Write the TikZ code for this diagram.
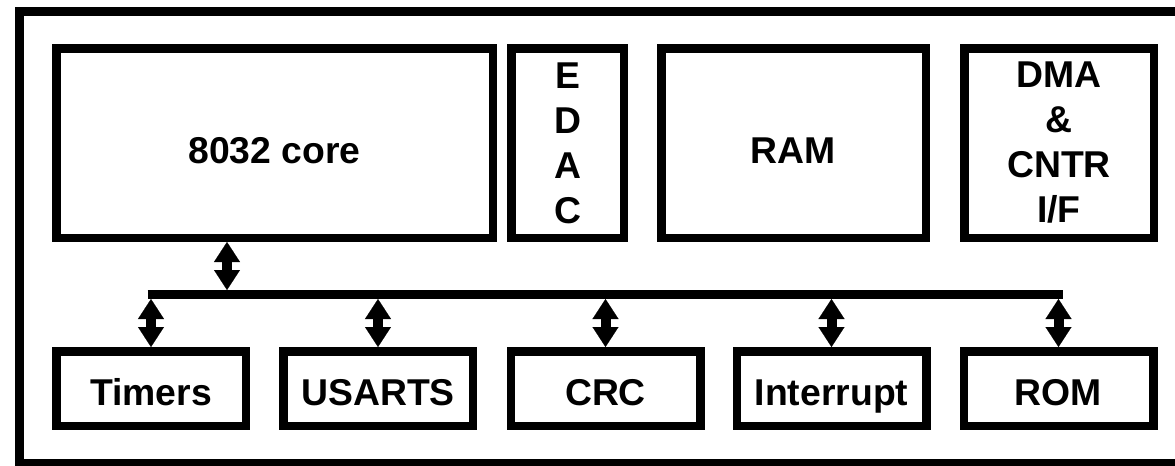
\documentclass[tikz,border=0pt]{standalone}
\usepackage{fontspec}
\setmainfont{Liberation Sans}
\usetikzlibrary{arrows.meta}
\tikzset{
  blk/.style={draw=black, line width=6.375pt, fill=white, inner sep=0pt,
    align=center, font=\bfseries\fontsize{28}{33.75}\selectfont},
  topblk/.style={blk, minimum height=142.125pt},
  onel/.style={text height=30pt, text depth=0pt},
  botblk/.style={blk, minimum width=142.125pt, minimum height=55.875pt,
    text height=26pt, text depth=1.25pt},
  dbl/.style={line width=7.5pt,
    {Triangle[length=15pt,width=19.5pt,line width=0.1pt]}-{Triangle[length=15pt,width=19.5pt,line width=0.1pt]}},
  busline/.style={line width=6.75pt},
  frame/.style={line width=6.75pt}
}
\begin{document}
\begin{tikzpicture}[x=0.75pt,y=-0.75pt]
\useasboundingbox (0,0) rectangle (1175,465);
\clip (0,0) rectangle (1175,465);
\draw[frame] (19.5,11.5) rectangle (1190,463.5);
% top row
\node[topblk, onel, minimum width=327.375pt] (core) at (274.5,143) {8032 core};
\node[topblk, minimum width=84.375pt] (edac) at (567.5,143) {E\\D\\A\\C};
\node[topblk, onel, minimum width=198.375pt] (ram) at (793.5,143) {RAM};
\node[topblk, minimum width=142.125pt] (dma) at (1059,143) {DMA\\\&\\CNTR\\I/F};
% bottom row
\node[botblk] (timers) at (151,388.5) {Timers};
\node[botblk] (usarts) at (378,388.5) {USARTS};
\node[botblk] (crc) at (605.5,388.5) {CRC};
\node[botblk] (intr) at (831.5,388.5) {Interrupt};
\node[botblk] (rom) at (1058.5,388.5) {ROM};
% bus
\coordinate (busL) at (147.5,294.5);
\coordinate (busR) at (1062.5,294.5);
\coordinate (busbot) at (0,299);
\coordinate (cj) at (227,290);
\draw[busline] (busL) -- (busR);
\draw[dbl] (cj |- core.south) -- (cj);
\foreach \n in {timers,usarts,crc,intr,rom}{
  \draw[dbl] (\n.north) -- (\n.north |- busbot);
}
\end{tikzpicture}
\end{document}
